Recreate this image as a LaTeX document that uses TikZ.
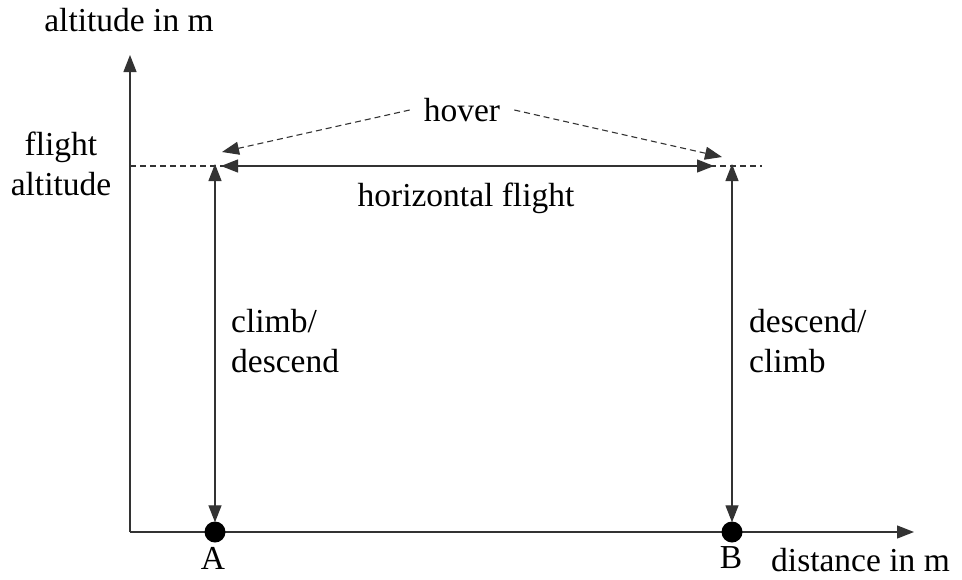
\documentclass[tikz,border=0pt]{standalone}
\usepackage{fontspec}
\setmainfont{Liberation Serif}
\usetikzlibrary{arrows.meta}
\begin{document}
\begin{tikzpicture}[x=1pt,y=-1pt,
  ln/.style={draw=black!80, line width=1.3pt},
  tip/.style={-{Triangle[length=17pt,width=13pt]}},
  dtip/.style={{Triangle[length=17pt,width=13pt]}-{Triangle[length=17pt,width=13pt]}},
  dsh/.style={dash pattern=on 6pt off 4pt},
  lbl/.style={font=\fontsize{33.5}{40}\selectfont, inner sep=0pt},
  dot/.style={circle, fill=black, minimum size=21pt, inner sep=0pt}]
\useasboundingbox (0,0) rectangle (962,579);
% axes
\coordinate (O) at (130,532);
\coordinate (Ytop) at (130,55);
\coordinate (Xend) at (914,532);
\draw[ln,tip] (O) -- (Ytop);
\draw[ln,tip] (O) -- (Xend);
% points
\node[dot] (A) at (215,532) {};
\node[dot] (B) at (732,532) {};
\coordinate (AL) at (130,166);
\coordinate (RE) at (762,166);
\draw[ln,dsh,line width=1.1pt] (AL) -- (RE);
\coordinate (Atop) at (215,166);
\coordinate (Btop) at (732,166);
\draw[ln,dtip] ([yshift=-1pt]A.north) -- ([yshift=2pt]Atop);
\draw[ln,dtip] ([yshift=-1pt]B.north) -- ([yshift=2pt]Btop);
\draw[ln,dtip] ([xshift=6pt]Atop) -- ([xshift=-18pt]Btop);
% hover
\node[lbl] (hover) at (462,110) {hover};
\coordinate (h1) at (222,152);
\coordinate (h2) at (722,157);
\draw[ln,dsh,line width=1.1pt,tip] ([xshift=-14pt]hover.west) -- (h1);
\draw[ln,dsh,line width=1.1pt,tip] ([xshift=14pt]hover.east) -- (h2);
% labels
\node[lbl] (alt) at (129,20) {altitude in m};
\node[lbl, align=center] (fa) at (61,164) {flight\\altitude};
\node[lbl] (hf) at (466,198) {horizontal flight};
\node[lbl, align=left, anchor=west] (cd) at (231,341) {climb/\\descend};
\node[lbl, align=left, anchor=west] (dc) at (749,341) {descend/\\climb};
\node[lbl] (la) at (213,558) {A};
\node[lbl] (lb) at (731,558) {B};
\node[lbl, anchor=west] (dist) at (771,560) {distance in m};
\end{tikzpicture}
\end{document}
